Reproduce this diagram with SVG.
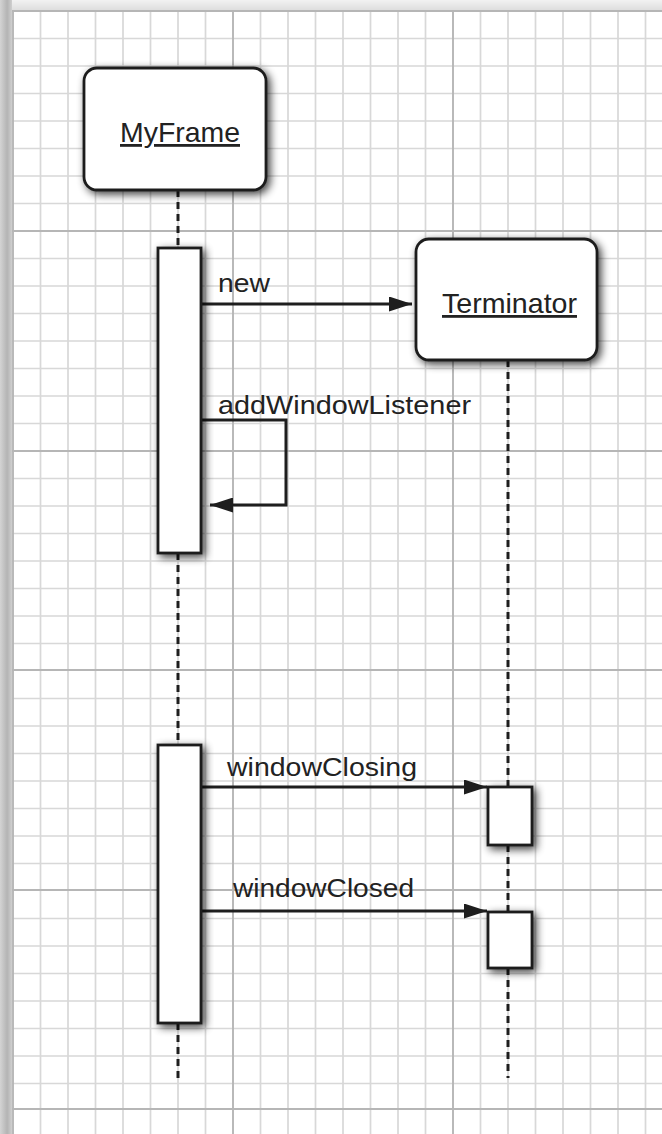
<svg xmlns="http://www.w3.org/2000/svg" width="662" height="1134" viewBox="0 0 662 1134">
<style>
.minor{stroke:#d8d8d8;stroke-width:1.7;fill:none}
.major{stroke:#b6b6b6;stroke-width:1.9;fill:none}
.box{fill:#fff;stroke:#1e1e1e;stroke-width:2.8}
.act{fill:#fff;stroke:#1e1e1e;stroke-width:2.8}
.life{stroke:#1e1e1e;stroke-width:3;stroke-dasharray:7 5;fill:none}
.msg{stroke:#1e1e1e;stroke-width:3;fill:none}
.title{font-family:"Liberation Sans",Arial,sans-serif;font-size:28px;fill:#222;text-decoration:underline}
.lbl{font-family:"Liberation Sans",Arial,sans-serif;font-size:25px;fill:#222}
</style>
<defs>
<filter id="sh" x="-30%" y="-30%" width="160%" height="160%">
<feGaussianBlur in="SourceAlpha" stdDeviation="4"/>
<feOffset dx="3" dy="3" result="b"/>
<feComponentTransfer><feFuncA type="linear" slope="0.75"/></feComponentTransfer>
<feMerge><feMergeNode/><feMergeNode in="SourceGraphic"/></feMerge>
</filter>
<marker id="ah" viewBox="0 0 23 15" refX="23" refY="7.5" markerWidth="23" markerHeight="15" markerUnits="userSpaceOnUse" orient="auto">
<path d="M0,0 L23,7.5 L0,15 Z" fill="#1e1e1e"/>
</marker>
<linearGradient id="lg" x1="0" y1="0" x2="1" y2="0">
<stop offset="0" stop-color="#d4d4d4"/>
<stop offset="0.6" stop-color="#b4b4b4"/>
<stop offset="1" stop-color="#cfcfcf"/>
</linearGradient>
<linearGradient id="tg" x1="0" y1="0" x2="0" y2="1">
<stop offset="0" stop-color="#f2f2f2"/>
<stop offset="1" stop-color="#dedede"/>
</linearGradient>
</defs>
<rect width="662" height="1134" fill="#fff"/>
<g id="grid">
<path class="minor" d="M40.5,0V1134M68,0V1134M95.5,0V1134M123,0V1134M150.5,0V1134M178,0V1134M205.5,0V1134M260.5,0V1134M288,0V1134M315.5,0V1134M343,0V1134M370.5,0V1134M398,0V1134M425.5,0V1134M480.5,0V1134M508,0V1134M535.5,0V1134M563,0V1134M590.5,0V1134M618,0V1134M645.5,0V1134"/>
<path class="minor" d="M0,38.5H662M0,66H662M0,93.5H662M0,121H662M0,148.5H662M0,176H662M0,203.5H662M0,258.5H662M0,286H662M0,313.5H662M0,341H662M0,368.5H662M0,396H662M0,423.5H662M0,478.5H662M0,506H662M0,533.5H662M0,561H662M0,588.5H662M0,616H662M0,643.5H662M0,698.5H662M0,726H662M0,753.5H662M0,781H662M0,808.5H662M0,836H662M0,863.5H662M0,918.5H662M0,946H662M0,973.5H662M0,1001H662M0,1028.5H662M0,1056H662M0,1083.5H662"/>
<path class="major" d="M13,0V1134M233,0V1134M453,0V1134M0,11H662M0,231H662M0,451H662M0,670H662M0,890H662M0,1109H662"/>
<rect x="0" y="0" width="662" height="10" fill="url(#tg)"/>
<rect x="0" y="0" width="12" height="1134" fill="url(#lg)"/>
</g>
<g id="connectors">
<path class="life" d="M178,190V248M178,553V745M178,1023V1078"/>
<path class="life" d="M508,360V787M508,845V912M508,968V1078"/>
<path class="msg" d="M202,304H412" marker-end="url(#ah)"/>
<path class="msg" d="M202,420H286V505H210" marker-end="url(#ah)"/>
<path class="msg" d="M202,787H487" marker-end="url(#ah)"/>
<path class="msg" d="M202,911H487" marker-end="url(#ah)"/>
<text class="lbl" x="218" y="292" textLength="52" lengthAdjust="spacingAndGlyphs">new</text>
<text class="lbl" x="218" y="414" textLength="253" lengthAdjust="spacingAndGlyphs">addWindowListener</text>
<text class="lbl" x="227" y="776" textLength="190" lengthAdjust="spacingAndGlyphs">windowClosing</text>
<text class="lbl" x="233" y="897" textLength="181" lengthAdjust="spacingAndGlyphs">windowClosed</text>
</g>
<g id="myframe">
<rect class="box" x="84" y="68" width="182" height="122" rx="13" filter="url(#sh)"/>
<text class="title" x="120" y="142" textLength="120" lengthAdjust="spacingAndGlyphs">MyFrame</text>
</g>
<g id="terminator">
<rect class="box" x="416" y="239" width="181" height="121" rx="13" filter="url(#sh)"/>
<text class="title" x="442" y="313" textLength="135" lengthAdjust="spacingAndGlyphs">Terminator</text>
</g>
<g id="myframe-act1"><rect class="act" x="158" y="248" width="43" height="305" filter="url(#sh)"/></g>
<g id="myframe-act2"><rect class="act" x="158" y="745" width="43" height="278" filter="url(#sh)"/></g>
<g id="terminator-act1"><rect class="act" x="488" y="787" width="44" height="58" filter="url(#sh)"/></g>
<g id="terminator-act2"><rect class="act" x="488" y="912" width="44" height="56" filter="url(#sh)"/></g>
</svg>
